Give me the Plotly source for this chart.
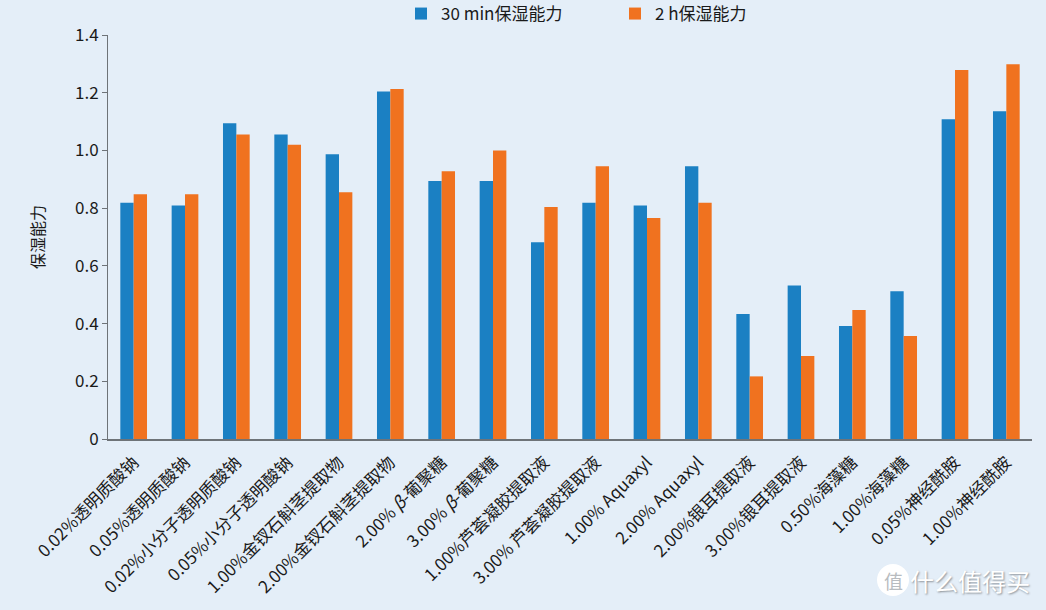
import plotly.graph_objects as go

categories = [
    "0.02%透明质酸钠", "0.05%透明质酸钠", "0.02%小分子透明质酸钠", "0.05%小分子透明酸钠",
    "1.00%金钗石斛茎提取物", "2.00%金钗石斛茎提取物", "2.00% <i>β</i>-葡聚糖", "3.00% <i>β</i>-葡聚糖",
    "1.00%芦荟凝胶提取液", "3.00% 芦荟凝胶提取液", "1.00% Aquaxyl", "2.00% Aquaxyl",
    "2.00%银耳提取液", "3.00%银耳提取液", "0.50%海藻糖", "1.00%海藻糖",
    "0.05%神经酰胺", "1.00%神经酰胺",
]
series_30min = [0.819, 0.809, 1.094, 1.055, 0.987, 1.204, 0.894, 0.894, 0.682,
                0.819, 0.809, 0.945, 0.433, 0.532, 0.392, 0.512, 1.108, 1.136]
series_2h = [0.848, 0.848, 1.055, 1.020, 0.855, 1.213, 0.928, 1.000, 0.804,
             0.945, 0.766, 0.819, 0.217, 0.288, 0.447, 0.357, 1.279, 1.299]
series_names = ["30 min保湿能力", "2 h保湿能力"]
y_ticks = [0, 0.2, 0.4, 0.6, 0.8, 1.0, 1.2, 1.4]
y_tick_text = ["0", "0.2", "0.4", "0.6", "0.8", "1.0", "1.2", "1.4"]

BG = "#e4eef8"
BLUE = "#1b80c3"
ORANGE = "#f0721f"
FONT = "Noto Sans CJK SC"

W, H = 1046, 610
M_L, M_R, M_T, M_B = 108, 14, 0, 171
plot_top_px = 35
paper_h = H - M_T - M_B
paper_w = W - M_L - M_R
y_dom_top = (H - M_B - plot_top_px) / paper_h


def px_y(py):
    return (H - M_B - py) / paper_h


def px_x(px):
    return (px - M_L) / paper_w


fig = go.Figure()
fig.add_trace(go.Bar(x=categories, y=series_30min, name=series_names[0],
                     marker=dict(color=BLUE, line=dict(width=0))))
fig.add_trace(go.Bar(x=categories, y=series_2h, name=series_names[1],
                     marker=dict(color=ORANGE, line=dict(width=0))))

fig.update_layout(
    width=W, height=H,
    paper_bgcolor=BG, plot_bgcolor=BG,
    margin=dict(l=M_L, r=M_R, t=M_T, b=M_B, autoexpand=False),
    barmode="group", bargap=0.48, bargroupgap=0,
    font=dict(family=FONT, size=17, color="#1a1a1a"),
    legend=dict(orientation="h", x=px_x(401), xanchor="left", y=px_y(14), yanchor="middle",
                font=dict(size=17), itemwidth=30, entrywidth=169,
                bgcolor="rgba(0,0,0,0)", traceorder="normal"),
    showlegend=True,
)

fig.update_xaxes(
    showline=True, linecolor="#6e7378", linewidth=1.5,
    ticks="outside", ticklen=5, tickcolor="rgba(0,0,0,0)",
    tickangle=-45, tickfont=dict(size=17, family=FONT),
    showgrid=False, zeroline=False, automargin=False,
)
fig.update_yaxes(
    domain=[0, y_dom_top],
    range=[0, 1.4], tickvals=y_ticks, ticktext=y_tick_text,
    showline=True, linecolor="#6e7378", linewidth=1,
    ticks="outside", ticklen=5, tickcolor="#6e7378",
    tickfont=dict(size=17, family=FONT),
    showgrid=False, zeroline=False, automargin=False,
    title=dict(text="保湿能力", font=dict(size=16, family=FONT), standoff=26),
)

# watermark
fig.add_shape(type="circle", xref="paper", yref="paper",
              x0=px_x(877), x1=px_x(909), y0=px_y(596), y1=px_y(564),
              fillcolor="white", line=dict(width=0), layer="above")
fig.add_annotation(
    text="值", xref="paper", yref="paper", x=px_x(893), y=px_y(580),
    xanchor="center", yanchor="middle",
    showarrow=False, font=dict(size=19, color="#b8bcc0", family=FONT),
)
fig.add_annotation(
    text="什么值得买", xref="paper", yref="paper", x=1.0, y=px_y(580),
    xanchor="right", yanchor="middle",
    showarrow=False, font=dict(size=24, color="#ffffff", family=FONT, shadow="1px 1px 2px #8a9096"),
)

fig.write_html("out.html", config={"displayModeBar": False},
               post_script="document.body.style.margin='0';")
